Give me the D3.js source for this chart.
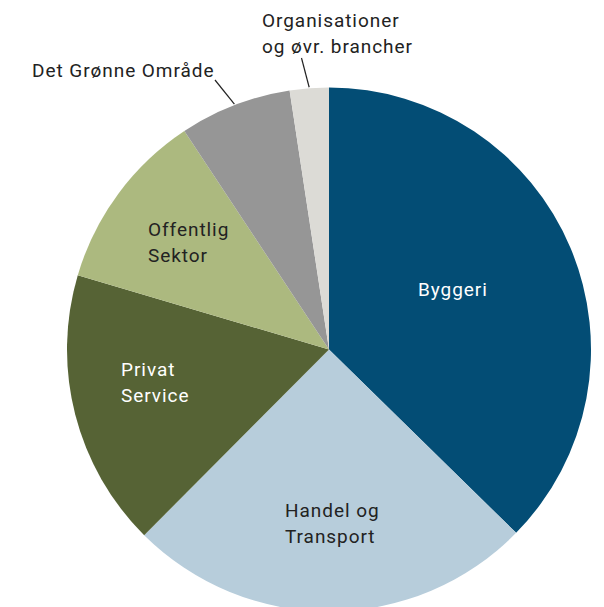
<!DOCTYPE html>
<html>
<head>
<meta charset="utf-8">
<script src="https://cdn.jsdelivr.net/npm/d3@7"></script>
<style>
  body { margin: 0; background: #fff; }
  svg text { font-family: Roboto, "Open Sans", sans-serif; font-size: 19px; letter-spacing: 0.95px; }
</style>
</head>
<body>
<svg id="chart" width="604" height="607"></svg>
<script>
const sectors = ['Byggeri', 'Handel og Transport', 'Privat Service', 'Offentlig Sektor', 'Det Grønne Område', 'Organisationer og øvr. brancher']
const shares = [37.3, 25.1, 17.1, 11.1, 6.9, 2.4]
const colors = ['#034d75', '#b7cddb', '#566335', '#acb97f', '#969696', '#dcdbd6']

// label lines per sector
const labelLines = [
  ['Byggeri'],
  ['Handel og', 'Transport'],
  ['Privat', 'Service'],
  ['Offentlig', 'Sektor'],
  ['Det Grønne Område'],
  ['Organisationer', 'og øvr. brancher']
]

const cx = 329, cy = 349.5, r = 262

const svg = d3.select('#chart')
const g = svg.append('g').attr('transform', `translate(${cx}, ${cy})`)

const pie = d3.pie().sort(null).value(d => d)
const arc = d3.arc().innerRadius(0).outerRadius(r)
const arcs = pie(shares)

g.selectAll('path')
  .data(arcs)
  .enter()
  .append('path')
  .attr('d', arc)
  .attr('fill', (d, i) => colors[i])

// label placement (absolute page coords, left aligned, first baseline)
const labelPos = [
  { x: 418, y: 296, fill: '#fff' },
  { x: 285, y: 517, fill: '#222' },
  { x: 121, y: 376, fill: '#fff' },
  { x: 148, y: 236, fill: '#222' },
  { x: 32, y: 77, fill: '#222' },
  { x: 262, y: 27, fill: '#222' }
]

labelLines.forEach(function(lines, i) {
  const t = svg.append('text')
    .attr('x', labelPos[i].x)
    .attr('y', labelPos[i].y)
    .attr('fill', labelPos[i].fill)
  lines.forEach(function(line, j) {
    t.append('tspan')
      .attr('x', labelPos[i].x)
      .attr('dy', j === 0 ? 0 : 25.5)
      .text(line)
  })
})

// leader lines for the small outer slices
const leaders = [
  { i: 4, to: [215, 80] },
  { i: 5, to: [301.5, 58] }
]
leaders.forEach(function(l) {
  const a = arcs[l.i]
  const mid = (a.startAngle + a.endAngle) / 2
  const px = cx + Math.sin(mid) * (r + 1)
  const py = cy - Math.cos(mid) * (r + 1)
  svg.append('line')
    .attr('x1', px).attr('y1', py)
    .attr('x2', l.to[0]).attr('y2', l.to[1])
    .attr('stroke', '#222')
    .attr('stroke-width', 1.2)
})
</script>
</body>
</html>
